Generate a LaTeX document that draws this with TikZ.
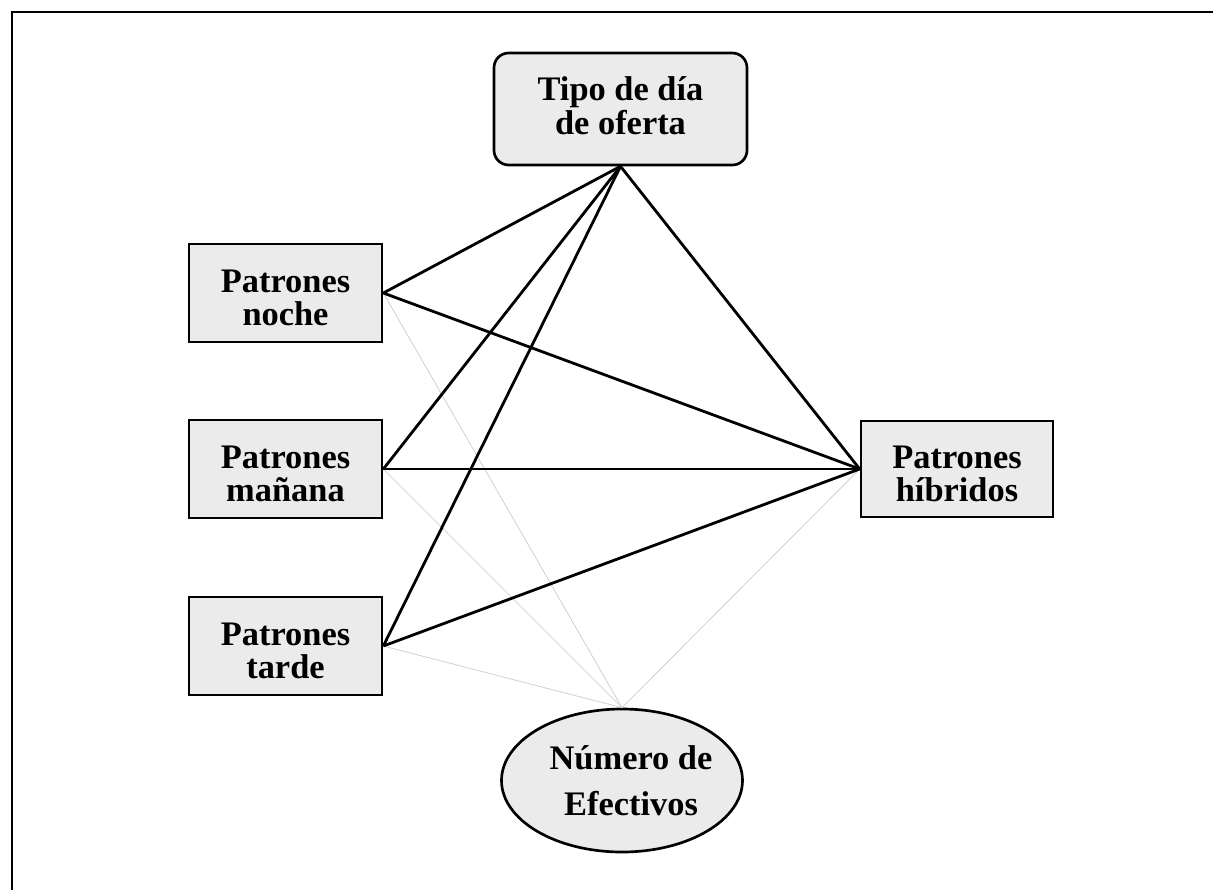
\documentclass[tikz,border=0pt]{standalone}
\usepackage{fontspec}
\setmainfont{Liberation Serif}
\usetikzlibrary{shapes.geometric}
\definecolor{boxfill}{HTML}{EBEBEB}
\definecolor{faint}{HTML}{D0D0D0}
\newcommand\shiftedtext[2]{\raisebox{#1}[\height][\depth]{\begin{tabular}{@{}c@{}}#2\end{tabular}}}
\tikzset{
  lbl/.style={font=\bfseries\fontsize{25.8}{23.8}\selectfont, inner sep=0pt, line width=2pt, draw=black, fill=boxfill},
  pbox/.style={lbl, rectangle, minimum width=144.75pt, minimum height=73.5pt},
  strong/.style={line width=2.1pt, black},
  weak/.style={line width=0.6pt, faint}
}
\begin{document}
\begin{tikzpicture}[x=0.75pt,y=-0.75pt]
\useasboundingbox (0,0) rectangle (1213,890);
\draw[line width=1.6pt] (1213,12.2) -- (12.2,12.2) -- (12.2,890);

\node[lbl, rectangle, rounded corners=11pt, minimum width=189.75pt, minimum height=84pt] (tipo) at (620.5,109) {\shiftedtext{-0.7pt}{Tipo de día\\de oferta}};
\node[pbox] (noche) at (285.5,293) {\shiftedtext{-7.1pt}{Patrones\\noche}};
\node[pbox] (manana) at (285.5,469) {\shiftedtext{-7.1pt}{Patrones\\mañana}};
\node[pbox] (tarde) at (285.5,646) {\shiftedtext{-7.1pt}{Patrones\\tarde}};
\node[pbox, minimum width=144pt, minimum height=72pt] (hibr) at (957,469) {\shiftedtext{-7.1pt}{Patrones\\híbridos}};
\node[lbl, ellipse, align=center, minimum width=180.75pt, minimum height=107.25pt, font=\bfseries\fontsize{25.8}{34.5}\selectfont] (num) at (622,780.5) {\makebox[0pt]{\hspace*{13.5pt}Número de}\\\makebox[0pt]{\hspace*{13.5pt}Efectivos}};

\draw[weak] (noche.east) -- (num.north);
\draw[weak] (manana.east) -- (num.north);
\draw[weak] (tarde.east) -- (num.north);
\draw[weak] (hibr.west) -- (num.north);

\draw[strong] (tipo.south) -- (noche.east);
\draw[strong] (tipo.south) -- (manana.east);
\draw[strong] (tipo.south) -- (tarde.east);
\draw[strong] (tipo.south) -- (hibr.west);
\draw[strong] (noche.east) -- (hibr.west);
\draw[strong] (manana.east) -- (hibr.west);
\draw[strong] (tarde.east) -- (hibr.west);
\end{tikzpicture}
\end{document}
